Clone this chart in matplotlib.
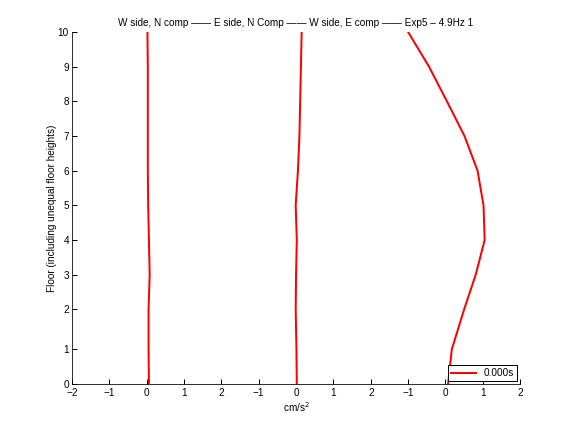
import matplotlib.pyplot as plt
import numpy as np

plt.rcParams['font.family'] = ['Liberation Sans', 'DejaVu Sans']
plt.rcParams['font.size'] = 10

# floor levels (unequal storey heights: storey 1-2 is taller)
floor_labels = [0, 1, 2, 3, 4, 5, 6, 7, 8, 9, 10]
floor_heights = [0, 1.0, 2.15, 3.15, 4.15, 5.15, 6.15, 7.15, 8.15, 9.15, 10.15]

# acceleration profiles at t = 0.000s (cm/s^2)
w_side_n = [0.06, 0.05, 0.05, 0.08, 0.06, 0.04, 0.03, 0.03, 0.03, 0.03, 0.02]
e_side_n = [0.02, 0.01, -0.01, 0.0, 0.02, -0.01, 0.05, 0.09, 0.11, 0.13, 0.15]
w_side_e = [0.07, 0.17, 0.5, 0.81, 1.05, 1.02, 0.86, 0.51, 0.04, -0.44, -1.0]

series = [w_side_n, e_side_n, w_side_e]
offsets = [0, 4, 8]
tick_labels = ['-2', '-1', '0', '1', '2', '-1', '0', '1', '2', '-1', '0', '1', '2']

fig = plt.figure(figsize=(8, 6), dpi=72)
ax = fig.add_axes([0.125, 0.111, 0.778, 0.815])

for i, (vals, off) in enumerate(zip(series, offsets)):
    x = np.array(vals) + off
    ax.plot(x, floor_heights, color='red', lw=2,
            label='0.000s' if i == 0 else None)

ax.set_xlim(-2, 10)
ax.set_ylim(0, floor_heights[-1])
ax.set_xticks(np.arange(-2, 11))
ax.set_xticklabels([t.replace('-', '\u2212') for t in tick_labels])
ax.set_yticks(floor_heights)
ax.set_yticklabels([str(f) for f in floor_labels])
ax.tick_params(direction='in', length=5, width=1, pad=3)
ax.tick_params(axis='x', pad=4)

for s in ['top', 'right']:
    ax.spines[s].set_visible(False)

ax.set_xlabel('cm/s$^2$', labelpad=2)
ax.set_ylabel('Floor (including unequal floor heights)', labelpad=1)
ax.set_title('W side, N comp \u2014\u2014 E side, N Comp \u2014\u2014 W side, E comp \u2014\u2014 Exp5 \u2013 4.9Hz 1',
             fontsize=10, pad=6)

leg = ax.legend(loc='lower right', fancybox=False, framealpha=1, edgecolor='black',
                borderpad=0.3, handlelength=2.5, borderaxespad=0.3)
leg.get_frame().set_linewidth(1)

fig.savefig('out.png', dpi=72)
